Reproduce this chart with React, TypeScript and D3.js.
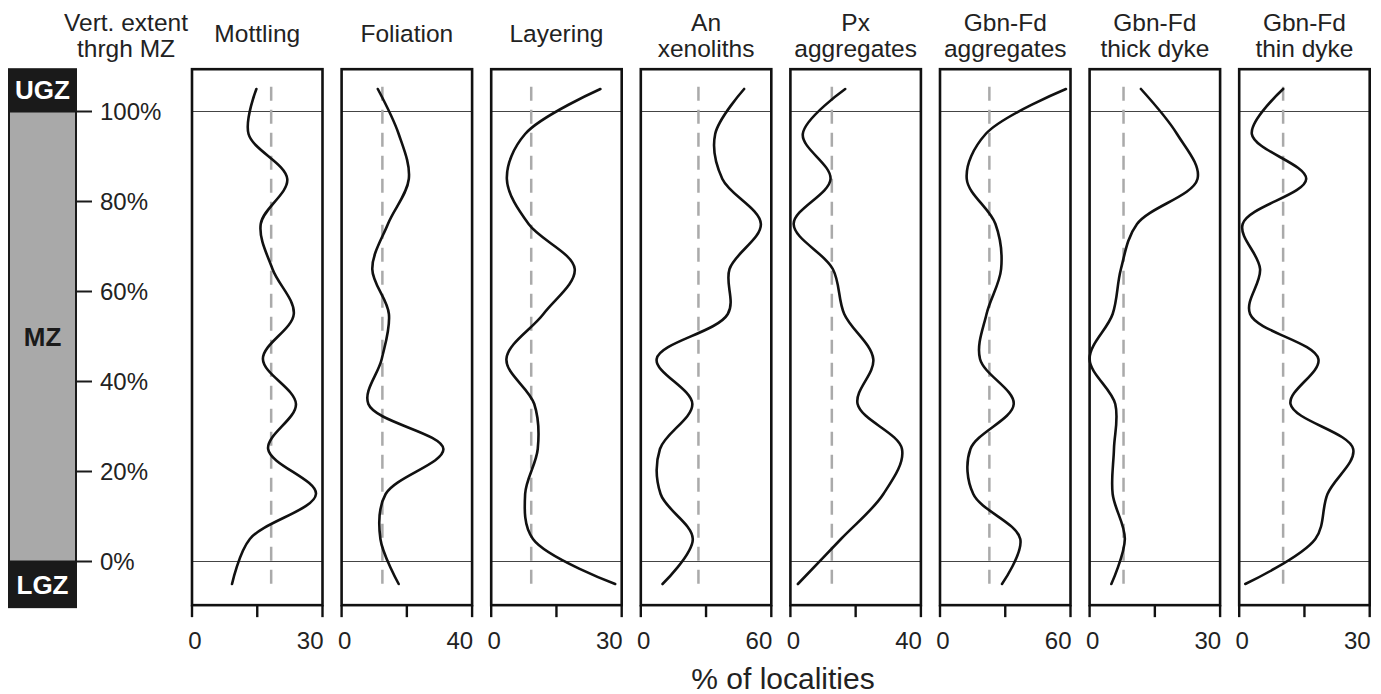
import React from 'react';
import * as d3 from 'd3';

// vertical position (% of MZ) of each sampled bin, top to bottom
const levels = [105, 95, 85, 75, 65, 55, 45, 35, 25, 15, 5, -5];

const panelTitles: string[][] = [
  ['Mottling'],
  ['Foliation'],
  ['Layering'],
  ['An', 'xenoliths'],
  ['Px', 'aggregates'],
  ['Gbn-Fd', 'aggregates'],
  ['Gbn-Fd', 'thick dyke'],
  ['Gbn-Fd', 'thin dyke'],
];
const xMax = [30, 40, 30, 60, 40, 60, 30, 30];

const mottling = [14.8, 13.0, 21.9, 15.8, 18.5, 23.4, 16.3, 23.9, 17.5, 28.5, 13.3, 9.2];
const foliation = [11.1, 17.5, 20.6, 14.2, 9.4, 14.5, 12.3, 8.2, 31.2, 13.5, 11.9, 17.5];
const layering = [25.1, 7.8, 3.6, 8.6, 19.2, 12.0, 3.5, 9.9, 10.7, 7.8, 9.6, 28.5];
const anXenoliths = [47.5, 34.2, 37.5, 55.2, 40.8, 40.0, 7.3, 23.7, 8.8, 9.1, 23.9, 10.0];
const pxAggregates = [16.8, 3.8, 12.3, 1.0, 13.0, 16.5, 25.4, 20.6, 34.2, 28.5, 15.5, 2.3];
const gbnAggregates = [57.9, 21.0, 12.3, 25.5, 28.1, 21.4, 18.4, 33.9, 14.0, 15.3, 36.9, 28.5];
const thickDyke = [11.8, 20.1, 24.8, 10.9, 7.2, 5.3, 0.0, 5.9, 5.6, 5.3, 8.1, 5.0];
const thinDyke = [10.1, 2.9, 15.4, 0.8, 4.8, 2.5, 18.2, 11.8, 26.2, 20.3, 17.5, 1.4];

const series = [mottling, foliation, layering, anXenoliths, pxAggregates, gbnAggregates, thickDyke, thinDyke];
// mean (dashed grey) line of each panel
const meanValues = [18.2, 12.5, 9.2, 26.5, 12.7, 22.7, 7.8, 10.1];

const yTicks = [0, 20, 40, 60, 80, 100];

const FONT = '"Liberation Sans", Arial, Helvetica, sans-serif';

export default function App() {
  const W = 1381;
  const H = 694;
  const y = d3.scaleLinear().domain([0, 100]).range([561.5, 111.5]);
  const boxTop = y(109.4);
  const boxBottom = y(-9.7);
  const panelLeft0 = 192;
  const panelStep = 149.6;
  const panelW = 130.5;

  const barL = 8;
  const barR = 77;
  const TITLE = 24.5;
  const TICK = 24;

  return (
    <svg
      width={W}
      height={H}
      style={{ position: 'absolute', left: 0, top: 0, background: '#fff' }}
      fontFamily={FONT}
    >
      <rect x={0} y={0} width={W} height={H} fill="#fff" />
      {/* Left zone bar */}
      <rect x={barL} y={boxTop - 1} width={barR - barL} height={y(100) - boxTop + 1} fill="#1a1a1a" />
      <rect x={barL + 1} y={y(100)} width={barR - barL - 2} height={y(0) - y(100)} fill="#a9a9a9" stroke="#1a1a1a" strokeWidth={2} />
      <rect x={barL} y={y(0)} width={barR - barL} height={boxBottom + 3 - y(0)} fill="#1a1a1a" />
      <text x={(barL + barR) / 2} y={(boxTop + y(100)) / 2 + 9} textAnchor="middle" fill="#fff" fontWeight="bold" fontSize={26}>UGZ</text>
      <text x={(barL + barR) / 2} y={y(50) + 9} textAnchor="middle" fill="#1a1a1a" fontWeight="bold" fontSize={26}>MZ</text>
      <text x={(barL + barR) / 2} y={(y(0) + boxBottom + 3) / 2 + 9} textAnchor="middle" fill="#fff" fontWeight="bold" fontSize={26}>LGZ</text>
      {yTicks.map((t) => (
        <g key={t}>
          <line x1={barR} x2={barR + 15} y1={y(t)} y2={y(t)} stroke="#1a1a1a" strokeWidth={2} />
          <text x={100} y={y(t) + 8.5} fontSize={TICK} fill="#222">{`${t}%`}</text>
        </g>
      ))}
      <text x={126} y={31} textAnchor="middle" fontSize={TITLE} fill="#222">Vert. extent</text>
      <text x={126} y={57} textAnchor="middle" fontSize={TITLE} fill="#222">thrgh MZ</text>

      {series.map((vals, i) => {
        const L = panelLeft0 + i * panelStep;
        const x = d3.scaleLinear().domain([0, xMax[i]]).range([L, L + panelW]);
        const pts: [number, number][] = vals.map((v, j) => [x(v), y(levels[j])]);
        const line = d3.line().curve(d3.curveCatmullRom.alpha(0.5))(pts) || '';
        const cx = L + panelW / 2;
        const title = panelTitles[i];
        const ticks = [0, xMax[i] / 2, xMax[i]];
        return (
          <g key={i}>
            {title.length === 1 ? (
              <text x={cx} y={42} textAnchor="middle" fontSize={TITLE} fill="#222">{title[0]}</text>
            ) : (
              <>
                <text x={cx} y={31} textAnchor="middle" fontSize={TITLE} fill="#222">{title[0]}</text>
                <text x={cx} y={57} textAnchor="middle" fontSize={TITLE} fill="#222">{title[1]}</text>
              </>
            )}
            <line x1={L} x2={L + panelW} y1={y(100)} y2={y(100)} stroke="#444" strokeWidth={1.2} />
            <line x1={L} x2={L + panelW} y1={y(0)} y2={y(0)} stroke="#444" strokeWidth={1.2} />
            <line
              x1={x(meanValues[i])}
              x2={x(meanValues[i])}
              y1={y(105.5)}
              y2={y(-5.2)}
              stroke="#aaa"
              strokeWidth={2.5}
              strokeDasharray="14,9"
            />
            <path d={line} fill="none" stroke="#111" strokeWidth={2.6} strokeLinejoin="round" strokeLinecap="round" />
            <rect x={L} y={boxTop} width={panelW} height={boxBottom - boxTop} fill="none" stroke="#111" strokeWidth={2.6} />
            {ticks.map((t, k) => (
              <line key={k} x1={x(t)} x2={x(t)} y1={boxBottom} y2={boxBottom + 12} stroke="#111" strokeWidth={2.4} />
            ))}
            <text x={x(0) + 3} y={649} textAnchor="middle" fontSize={TICK} fill="#222">0</text>
            <text x={x(xMax[i]) + 1} y={649} textAnchor="end" fontSize={TICK} fill="#222">{xMax[i]}</text>
          </g>
        );
      })}
      <text x={783} y={689} textAnchor="middle" fontSize={30} fill="#222">% of localities</text>
    </svg>
  );
}
